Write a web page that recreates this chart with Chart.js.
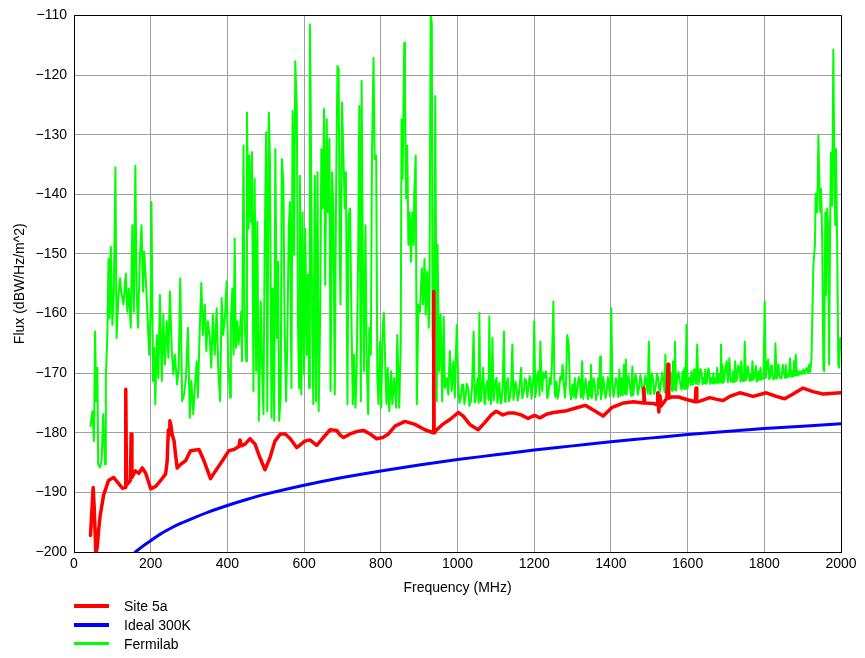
<!DOCTYPE html>
<html>
<head>
<meta charset="utf-8">
<script src="https://cdn.jsdelivr.net/npm/chart.js@4/dist/chart.umd.min.js"></script>
<style>
html,body{margin:0;padding:0;background:#fff;}
#wrap{position:relative;width:865px;height:658px;}
#legend{position:absolute;left:74px;top:596px;font:14px "Liberation Sans",Arial,sans-serif;color:#000;}
.item{display:flex;align-items:center;height:19px;white-space:nowrap;}
.swatch{width:35px;margin-right:15px;}
</style>
</head>
<body>
<div id="wrap"><canvas id="c"></canvas><div id="legend"></div></div>
<script>
// ---------- Data ----------
const xTickStep = 200;
const yTickStep = 10;

// Site 5a (red)
const siteFreq = [43,50,53,57,61,64,68,77,90,103,116,126,133,135,137,143,147,149,151,160,169,178,187,200,213,226,239,243,246,248,250,252,256,261,265,269,278,291,304,326,339,356,369,387,404,
  417,430,433,436,446,459,472,485,498,511,524,538,551,564,581,602,615,633,650,668,685,694,703,720,737,755,772,789,805,
  820,837,863,889,915,937,938,939,941,961,982,1002,1015,1032,1054,1071,1088,1101,1118,1131,1149,1166,1184,1201,1215,
  1232,1250,1285,1311,1333,1354,1380,1402,1433,1459,1484,1486,1488,1511,1521,1522,1525,1528,1531,1546,1549,1551,1559,1576,1602,1620,1622,1624,
  1632,1658,1676,1693,1710,1736,1771,1805,1831,1853,1875,1901,1927,1953,2000];
const siteFlux = [-197.2,-189.2,-193,-200.5,-199,-196.5,-194,-190.5,-188,-187.5,-188.5,-189.3,-189.2,-172.7,-188.8,-188.3,-188,-180.2,-187.5,-186.4,-186.8,-185.9,-186.8,-189.4,-189,-188,-186.9,-184.7,-179.5,-180.3,-178,-178.5,-180.3,-181.4,-183.8,-185.9,-185.3,-184.7,-183,-182.8,-184.7,-187.7,-186.4,-184.7,-183,
  -182.8,-182.3,-181.2,-182.2,-181.9,-181,-181.9,-184.2,-186.2,-184.2,-181.4,-180.2,-180.2,-181,-182.5,-181.4,-181.2,-182.1,-180.8,-179.5,-179.6,-180.4,-180.8,-180.2,-179.8,-179.6,-180.2,-181,-180.8,
  -180.2,-178.9,-178.1,-178.6,-179.5,-180,-156.3,-180,-179.8,-178.6,-177.7,-176.6,-177.2,-178.6,-179.5,-178.3,-177,-176.4,-177,-176.7,-176.7,-177,-177.6,-177.1,-177.5,
  -176.9,-176.6,-176.3,-175.8,-175.4,-176.2,-177.2,-175.8,-175,-174.8,-175,-172.5,-175,-175.1,-175.3,-173.3,-176.5,-173.8,-175.5,-174.2,-168.5,-174.2,-174,-174,-174.5,-174.8,-172.5,-174.8,
  -174.7,-174.1,-174.4,-174.6,-173.9,-173.3,-173.9,-173.3,-173.9,-174.3,-173.5,-172.5,-173.1,-173.5,-173.3];

// Ideal 300K (blue)
const idealFreq = [160,180,200,225,250,275,300,350,400,450,500,600,700,800,900,1000,1100,1200,1300,1400,1500,1600,1700,1800,1900,2000];
const idealFlux = [-200.0,-199.0,-198.1,-197.0,-196.1,-195.3,-194.6,-193.3,-192.2,-191.2,-190.3,-188.8,-187.5,-186.4,-185.4,-184.5,-183.7,-182.9,-182.2,-181.5,-180.9,-180.3,-179.8,-179.3,-178.9,-178.5];

// Fermilab (green), in frequency bands
const fermiFreqA = [43,48,52,55,58,61,63,68,72,76,81,83,87,90,93,96,100,104,108,111,116,120,123,129,135,139,143,148,152,156,160,163,167,172,176,180,183,188,192,196,200,202,206,209,212,216,220,224,229,233,237,242,246,250,255,259,263,269,273,277,282,287,292,297,302,306,311,315,320,323,328,332,336,341,345,349,354,358,362,367,372,376,381,385,389,394,398,402];
const fermiFluxA = [-178.9,-176.4,-181.4,-163,-174.7,-169.1,-185.3,-185.8,-184.7,-176.9,-185.3,-170.8,-163.6,-150.8,-160.8,-148.8,-161.9,-155.8,-135.5,-164.1,-156.9,-154.1,-156.3,-158.5,-153.3,-159.7,-155.8,-162.4,-145.2,-159.7,-135.2,-155.8,-162.4,-150.2,-145.2,-156.3,-149.6,-155.2,-160.8,-166.9,-159.1,-141.3,-171.3,-165.8,-175.2,-163.6,-170.8,-156.9,-171.3,-160.2,-168.6,-161.3,-167.4,-156.3,-166.3,-170.2,-166.9,-171.9,-169.1,-154.1,-174.7,-173.6,-170.8,-162.4,-177.5,-171.3,-176.9,-172.5,-168,-174.1,-162.4,-154.9,-163.6,-158.5,-166.3,-161.3,-164.1,-169.1,-160.2,-166.9,-159.1,-169.1,-174.7,-157.4,-163.6,-160.2,-154.6,-168];

const fermiFreqB = [407,409,413,416,419,422,426,429,433,436,438,442,445,449,451,455,457,461,464,468,471,475,478,482,487,490,494,497,501,504,508,511,515,518,522,525,529,532,535,539,542,546,549,553,556,560,563,567,570,574,577,581,584,587,589,593,596,600,603,607,610,613,615,617,621,624,628,631,635,638,642,645,648,652,655,659,662,666,669,673,676,680,683,687,690,693,695,699,702,706,709,713,716,720,723,727,730,734,737,741,744,748,750,753,756,760,763,767,770,774,777,781,784,788,791,794,798,801,805,808,812,815];
const fermiFluxB = [-174.1,-161.3,-155.8,-166.9,-147.4,-165.8,-161.3,-165.2,-162.4,-159.7,-168,-131.8,-161.3,-168,-126.3,-145.8,-133.5,-144.6,-132.9,-173,-137.4,-169.7,-144.6,-178,-158,-168,-176.9,-150.2,-129.6,-176.4,-126.3,-134.1,-177.5,-155.8,-178,-132.4,-164.1,-151.3,-178,-173.6,-134.1,-138,-161.3,-174.7,-165.8,-145.8,-141.3,-172.5,-126,-150.2,-117.7,-125.7,-161.3,-172.5,-136.9,-173.6,-143,-170.2,-145.8,-166.9,-153.5,-172.5,-111.5,-123,-161.3,-175.2,-136.9,-174.7,-136.3,-176.4,-159.7,-132.4,-142.4,-125.7,-155.2,-127.4,-143,-130.7,-173,-136.3,-142.4,-173.6,-142.4,-118.5,-119,-150.2,-158.5,-124.6,-132.4,-142.4,-136.3,-175.2,-143.5,-142.4,-159.1,-175.2,-166.9,-175.8,-169.1,-150.2,-125.2,-174.7,-121,-150.2,-169.7,-145.2,-166.9,-176.9,-162.4,-166.9,-133.5,-117.1,-134.1,-133.5,-170.8,-175.2,-164.7,-175.8,-161.9,-159.9,-169.7,-175.2];

const fermiFreqC = [818,822,827,830,835,840,843,848,852,854,857,861,863,866,869,872,875,879,882,886,887,891,894,898,902,907,910,914,917,921,925,927,930,933,935,939,942,946,948,952,956,960,964,967,972,976,980,985,989,993,998];
const fermiFluxC = [-169.1,-176.4,-169.7,-175.2,-170.8,-175.8,-163.6,-175.8,-165.2,-127.4,-137.4,-114.6,-123.5,-140.7,-131.8,-148.5,-143,-151.3,-143,-148.5,-140.2,-133.5,-175.2,-158.5,-159.7,-152.4,-158.5,-150.8,-160.2,-153,-162.4,-155.2,-110,-111.3,-164.1,-165.2,-123.5,-174.7,-148.5,-169.7,-160.2,-174.7,-160.5,-172.5,-170.8,-173.6,-166.3,-173,-168,-174.1,-161.9];

const fermiFreqD = [1002,1005,1009,1012,1015,1018,1021,1024,1028,1031,1035,1038,1042,1045,1047,1050,1053,1055,1057,1059,1061,1064,1067,1070,1072,1075,1078,1081,1083,1085,1087,1089,1091,1094,1096,1099,1102,1104,1106,1109,1111,1113,1115,1118,1121,1124,1126,1129,1131,1134,1137,1140,1143,1146,1148,1151,1154,1157,1160,1163,1166,1169,1173,1176,1179,1182,1185,1188,1190,1193,1195,1198,1200,1203,1205,1208,1211,1214,1216,1219,1221,1224,1226];
const fermiFluxD = [-171.9,-175.0,-174.1,-172.0,-171.9,-175.2,-174.1,-171.8,-172.5,-175.5,-174.7,-172.2,-163,-174.9,-174.7,-172.0,-170.8,-175.0,-159.9,-172.5,-174.7,-171.8,-169.1,-174.8,-175.2,-172.0,-171.3,-174.5,-160.5,-172.4,-175.2,-171.9,-164.1,-174.6,-173.6,-171.2,-170.8,-175.0,-174.1,-171.6,-173.6,-175.1,-174.7,-171.9,-163,-174.8,-173.6,-171.5,-170.8,-174.7,-174.1,-172.0,-165.2,-174.5,-173.6,-171.4,-172.5,-174.6,-173.6,-171.3,-169.1,-174.2,-173,-170.9,-171.3,-174.0,-172.5,-170.5,-170.8,-174.3,-173,-170.8,-161.3,-174.0,-173,-170.4,-169.7,-173.8,-164.7,-171.0,-173,-169.9,-170.8];

const fermiFreqE = [1231,1234,1237,1240,1243,1246,1250,1253,1255,1258,1261,1265,1268,1271,1274,1278,1280,1283,1286,1290,1293,1296,1300,1303,1306,1309,1312,1316,1319,1322,1325,1328,1331,1334,1337,1340,1343,1346,1348,1350,1352,1355,1358,1361,1364,1366,1369,1372,1374,1377,1380,1383,1386,1389,1392,1395,1398,1401,1404,1407,1410,1413,1417,1419,1422,1425,1428,1431,1434,1437,1439,1441,1443,1446,1450,1453,1456,1458,1461,1464,1467,1470,1474,1477,1480,1483,1486,1490,1493,1496,1499,1502,1504,1507,1510,1513,1517,1520,1523,1527,1530,1534,1537,1540,1542,1545,1547,1550,1552,1555,1557,1560,1562,1565,1567,1570,1573,1576,1580,1584,1587,1590,1592,1595,1597,1600,1603];
const fermiFluxE = [-169.7,-174.2,-173.6,-170.8,-171.9,-168.9,-158,-172.5,-174.0,-171.4,-174.3,-172.7,-170.6,-171.1,-168.6,-172.5,-174.1,-171.6,-163.6,-165.2,-172.5,-174.4,-171.9,-174.0,-170.8,-174.2,-173,-170.7,-171.4,-174.1,-168,-174.3,-172.7,-170.9,-173,-174.4,-171.4,-173.9,-168.6,-174.2,-173,-170.8,-171.9,-174.5,-173.6,-170.9,-172.5,-167.2,-174.4,-173,-170.6,-172.5,-174.2,-173,-170.7,-172.2,-173.9,-159.1,-171.9,-174.0,-172.5,-170.8,-171.9,-174.0,-169.4,-173.8,-170.8,-173.7,-168.6,-173.5,-167.7,-173.6,-171.6,-170.4,-172.5,-173.8,-168.9,-173.7,-171.9,-170.2,-171.1,-173.6,-172.2,-170.3,-171.6,-173.6,-172.5,-170.4,-171.9,-173.4,-164.7,-173.5,-171.9,-170.0,-171.1,-173.5,-172.2,-170.1,-170.8,-173.4,-171.9,-169.9,-171.4,-173.2,-166.9,-173.3,-171.9,-173.0,-170.8,-169.8,-171.6,-173.0,-168,-172.8,-164.7,-172.9,-170.8,-169.8,-171.4,-172.8,-169.7,-172.6,-169.1,-172.7,-161.9,-172.5,-170.8];

const fermiFreqF = [1606,1608,1610,1613,1615,1617,1619,1622,1625,1628,1630,1633,1636,1639,1641,1644,1646,1649,1651,1654,1656,1659,1662,1665,1667,1670,1672,1675,1677,1680,1682,1685,1687,1689,1691,1693,1695,1699,1702,1705,1709,1712,1714,1717,1719,1722,1724,1727,1729,1732,1735,1738,1740,1743,1745,1747,1749,1752,1754,1757,1759,1762,1764,1767,1769,1772,1775,1778,1780,1783,1785,1788,1790,1793,1795,1798,1801,1804,1807,1810,1813,1815,1818,1820,1823,1825,1827,1829,1832,1834,1837,1839,1842,1845,1848,1851,1854,1856,1859,1861,1864,1867,1870,1872,1875,1877,1880,1882,1885,1887,1890,1893,1897,1901,1905,1910,1914,1917,1920,1923,1928,1932,1934,1938,1941,1943,1946,1948,1951,1954,1956,1959,1961,1964,1967,1969,1972,1974,1977,1980,1982,1985,1987,1990,1993,1995,1998,2000];
const fermiFluxF = [-170.8,-172.0,-169.7,-171.8,-171.9,-169.4,-169.7,-171.8,-165.2,-171.9,-171.4,-169.3,-169.7,-171.9,-170.8,-171.7,-169.4,-171.8,-171.4,-169.2,-169.7,-171.8,-170.8,-171.7,-170,-171.8,-170.8,-171.6,-169.1,-171.7,-170.2,-171.5,-165.2,-171.6,-168.6,-171.6,-171.4,-169.0,-168,-171.5,-167.5,-171.4,-170.8,-171.5,-169.7,-171.5,-168,-171.3,-170.8,-168.7,-169.1,-171.4,-168,-171.3,-170.8,-171.3,-164.7,-171.2,-170.8,-168.9,-169.7,-171.3,-170.2,-171.2,-168,-171.1,-170.2,-168.8,-171.4,-171.2,-169.7,-171.1,-169.1,-171.1,-170.8,-170.9,-158,-170.8,-168.6,-167.7,-171.0,-170.8,-168.7,-170.2,-171.0,-170.8,-170.9,-165,-170.9,-170.8,-168.5,-170.2,-170.9,-170.8,-168.6,-169.7,-170.8,-168.6,-170.7,-170.2,-170.6,-167.5,-170.6,-169.7,-170.5,-168,-170.4,-166.9,-170.4,-169.7,-170.3,-169.7,-170.2,-169.4,-170.1,-169.1,-170.0,-168.6,-169.8,-167.5,-151.9,-148.5,-139.9,-143,-130.2,-136.8,-143,-139.1,-147.4,-169.1,-169.7,-143,-156.9,-142.4,-145.8,-168.6,-142.4,-133,-141.9,-115.7,-131.8,-145.2,-132.4,-148.5,-168.6,-169.1,-164.1,-166];

// ---------- Build points ----------
const pts = (xs, ys) => xs.map((x, i) => ({x: x, y: ys[i]}));
const fermiPoints = [].concat(
  pts(fermiFreqA, fermiFluxA), pts(fermiFreqB, fermiFluxB), pts(fermiFreqC, fermiFluxC),
  pts(fermiFreqD, fermiFluxD), pts(fermiFreqE, fermiFluxE), pts(fermiFreqF, fermiFluxF));

const FONT = '"Liberation Sans", Arial, sans-serif';
Chart.defaults.font.family = FONT;
Chart.defaults.font.size = 14;
Chart.defaults.color = '#000';

const framePlugin = {
  id: 'frame',
  afterDraw(chart) {
    const {ctx, chartArea: a} = chart;
    ctx.save();
    ctx.strokeStyle = '#000';
    ctx.lineWidth = 1;
    ctx.beginPath();
    ctx.moveTo(Math.round(a.left) + 0.5, Math.round(a.top) + 0.5);
    ctx.lineTo(Math.round(a.right) + 0.5, Math.round(a.top) + 0.5);
    ctx.lineTo(Math.round(a.right) + 0.5, Math.round(a.bottom) + 0.5);
    ctx.stroke();
    ctx.restore();
  }
};

const chart = new Chart(document.getElementById('c'), {
  type: 'line',
  data: {
    datasets: [
      {label: 'Site 5a', data: pts(siteFreq, siteFlux), borderColor: '#ff0000', backgroundColor: '#ff0000', borderWidth: 3.5, tension: 0, legendWidth: 4},
      {label: 'Ideal 300K', data: pts(idealFreq, idealFlux), borderColor: '#0000ff', backgroundColor: '#0000ff', borderWidth: 3, cubicInterpolationMode: 'monotone', legendWidth: 4},
      {label: 'Fermilab', data: fermiPoints, borderColor: '#00ff00', backgroundColor: '#00ff00', borderWidth: 2, tension: 0, legendWidth: 3}
    ]
  },
  options: {
    responsive: true,
    maintainAspectRatio: false,
    animation: false,
    events: [],
    layout: {padding: {left: 0, right: 24, top: 12, bottom: 56}},
    elements: {point: {radius: 0}, line: {borderJoinStyle: 'round', borderCapStyle: 'round'}},
    plugins: {legend: {display: false}, tooltip: {enabled: false}},
    scales: {
      x: {
        type: 'linear', min: 0, max: 2000,
        ticks: {stepSize: xTickStep, padding: 4, maxRotation: 0, autoSkip: false, color: '#000', callback: v => String(v)},
        grid: {color: '#a0a0a0', drawTicks: false},
        border: {color: '#000', width: 1},
        title: {display: true, text: 'Frequency (MHz)', color: '#000', padding: {top: 0, bottom: 5}},
        afterFit(s) { s.height = 50; }
      },
      y: {
        type: 'linear', min: -200, max: -110,
        ticks: {stepSize: yTickStep, padding: 7, color: '#000', callback: v => String(v).replace('-', '\u2212')},
        grid: {color: '#a0a0a0', drawTicks: false},
        border: {color: '#000', width: 1},
        title: {display: true, text: 'Flux (dBW/Hz/m^2)', color: '#000', padding: {top: 12, bottom: 0}},
        afterFit(s) { s.width = 74; }
      }
    }
  },
  plugins: [framePlugin]
});

// HTML legend built from the datasets
const legend = document.getElementById('legend');
chart.data.datasets.forEach(ds => {
  const row = document.createElement('div');
  row.className = 'item';
  const sw = document.createElement('span');
  sw.className = 'swatch';
  sw.style.height = ds.legendWidth + 'px';
  sw.style.background = ds.borderColor;
  const tx = document.createElement('span');
  tx.textContent = ds.label;
  row.appendChild(sw);
  row.appendChild(tx);
  legend.appendChild(row);
});
</script>
</body>
</html>
